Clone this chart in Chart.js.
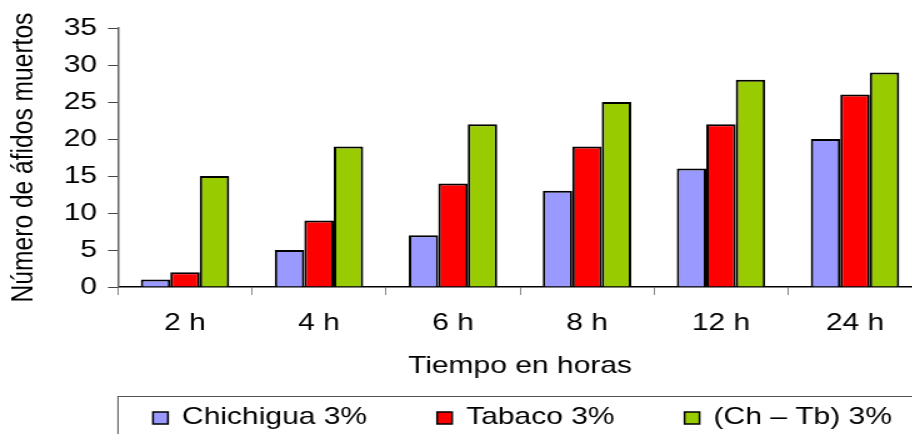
<!DOCTYPE html>
<html>
<head>
<meta charset="utf-8">
<script src="https://cdn.jsdelivr.net/npm/chart.js"></script>
<style>
  html, body { margin: 0; padding: 0; background: #fff; overflow: hidden; }
  #wrap { width: 740px; height: 434px; transform: scaleX(1.25); transform-origin: 0 0; }
</style>
</head>
<body>
<div id="wrap"><canvas id="myChart"></canvas></div>
<script>
const categories = ['2 h', '4 h', '6 h', '8 h', '12 h', '24 h'];
const chichigua = [1, 5, 7, 13, 16, 20];
const tabaco = [2, 9, 14, 19, 22, 26];
const chTb = [15, 19, 22, 25, 28, 29];
const seriesNames = ['Chichigua 3%', 'Tabaco 3%', '(Ch \u2013 Tb) 3%'];
const yTicks = { min: 0, max: 35, step: 5 };

Chart.defaults.font.family = '"Liberation Sans", Arial, sans-serif';
Chart.defaults.font.size = 24;
Chart.defaults.color = '#000';

// legend drawn in a box below the axis title, like the original
const boxLegend = {
    id: 'boxLegend',
    afterDraw(chart) {
        const ctx = chart.ctx;
        const left = chart.chartArea.left;
        ctx.save();
        ctx.strokeStyle = '#555';
        ctx.lineWidth = 1;
        ctx.strokeRect(left, 396.5, 800, 80);

        ctx.font = '24px "Liberation Sans", Arial, sans-serif';
        ctx.textBaseline = 'middle';
        let x = 122.4;
        chart.data.datasets.forEach(ds => {
            ctx.fillStyle = ds.backgroundColor;
            ctx.fillRect(x, 412, 12, 12);
            ctx.strokeStyle = '#000';
            ctx.lineWidth = 1.5;
            ctx.strokeRect(x, 412, 12, 12);
            ctx.fillStyle = '#000';
            ctx.fillText(ds.label, x + 23.2, 417);
            x += 23.2 + ctx.measureText(ds.label).width + 56;
        });
        ctx.restore();
    }
};

const ctx = document.getElementById('myChart').getContext('2d');
new Chart(ctx, {
    type: 'bar',
    data: {
        labels: categories,
        datasets: [
            { label: seriesNames[0], data: chichigua, backgroundColor: '#9999FF' },
            { label: seriesNames[1], data: tabaco, backgroundColor: '#FF0000' },
            { label: seriesNames[2], data: chTb, backgroundColor: '#99CC00' }
        ]
    },
    options: {
        responsive: true,
        maintainAspectRatio: false,
        animation: false,
        layout: { padding: { top: 28, left: 0, right: 2.4, bottom: 53.6 } },
        datasets: {
            bar: {
                borderColor: '#000',
                borderWidth: 2,
                categoryPercentage: 0.66,
                barPercentage: 1
            }
        },
        plugins: {
            legend: { display: false },
            tooltip: { enabled: false }
        },
        scales: {
            x: {
                grid: { drawOnChartArea: false, drawTicks: true, tickLength: 8, color: '#888' },
                border: { color: '#000', width: 1.5 },
                ticks: { padding: 14 },
                title: { display: true, text: 'Tiempo en horas', padding: { top: 0, bottom: 0 } },
                afterFit(scale) { scale.height = 93.4; }
            },
            y: {
                min: yTicks.min,
                max: yTicks.max,
                grid: { drawOnChartArea: false, drawTicks: true, tickLength: 8, color: '#444' },
                border: { color: '#666', width: 1.5 },
                ticks: { stepSize: yTicks.step, padding: 8.8 },
                title: {
                    display: true,
                    text: 'Número de áfidos muertos',
                    font: { size: 24.6 },
                    padding: { top: 4, bottom: 0 }
                },
                afterFit(scale) { scale.width = 94.4; }
            }
        }
    },
    plugins: [boxLegend]
});
</script>
</body>
</html>
